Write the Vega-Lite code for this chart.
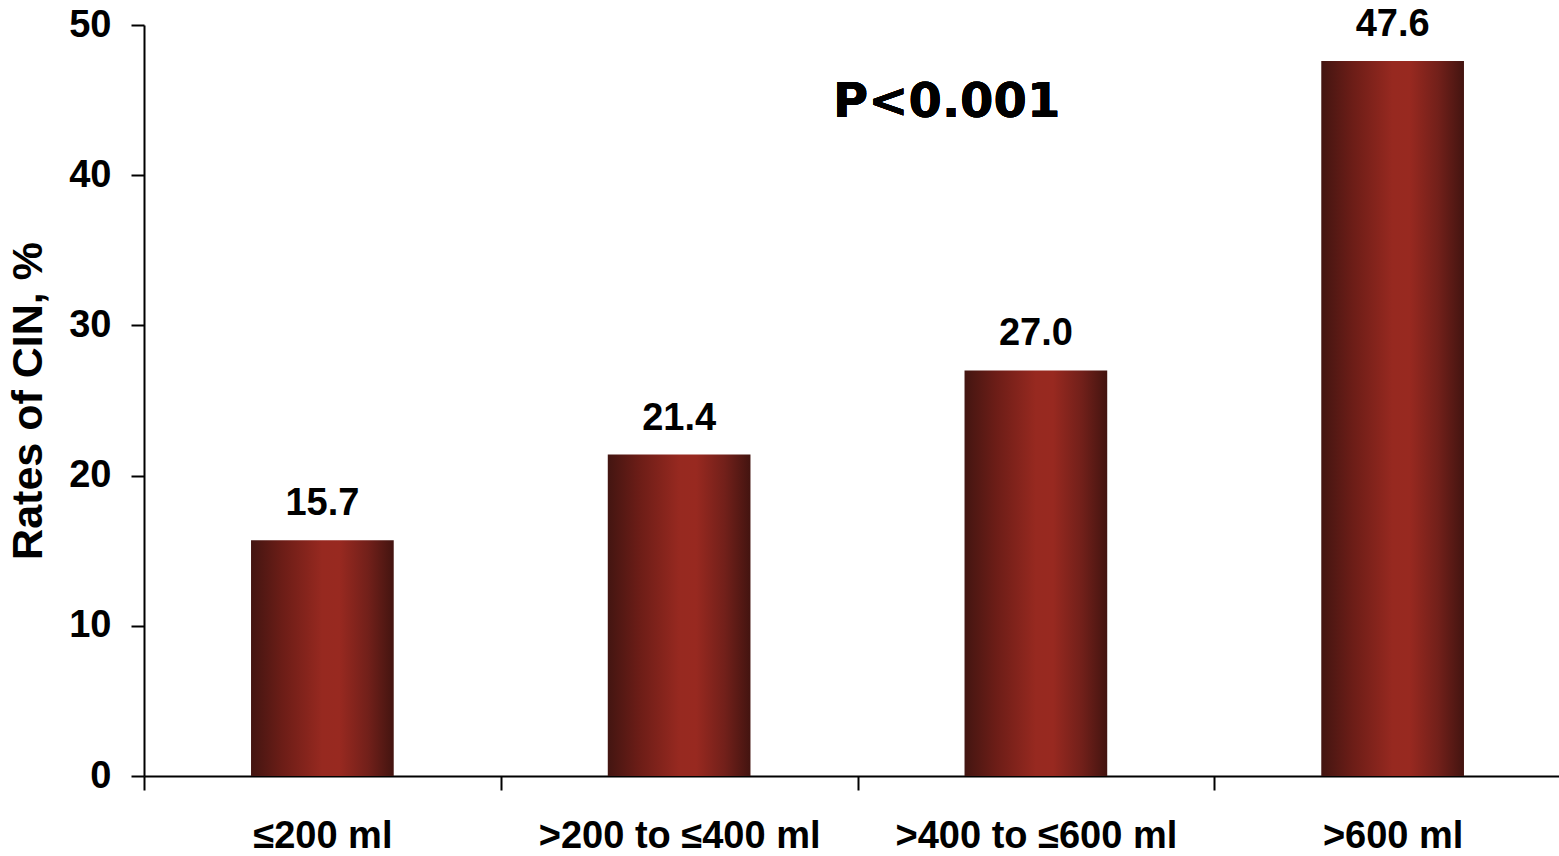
{
  "$schema": "https://vega.github.io/schema/vega-lite/v6.json",
  "autosize": {"type": "none"},
  "width": 1415,
  "height": 751,
  "padding": {"left": 144, "top": 25, "right": 0, "bottom": 80},
  "background": "white",
  "config": {
    "view": {"stroke": null},
    "font": "Liberation Sans",
    "axis": {
      "domainColor": "black",
      "domainWidth": 2,
      "tickColor": "black",
      "tickWidth": 2,
      "tickSize": 13,
      "labelColor": "black",
      "labelFont": "Liberation Sans",
      "labelFontWeight": "bold",
      "titleColor": "black",
      "titleFont": "Liberation Sans",
      "titleFontWeight": "bold",
      "grid": false
    }
  },
  "data": {
    "values": [
      {"volume": "≤200 ml", "rate": 15.7},
      {"volume": ">200 to ≤400 ml", "rate": 21.4},
      {"volume": ">400 to ≤600 ml", "rate": 27.0},
      {"volume": ">600 ml", "rate": 47.6}
    ]
  },
  "encoding": {
    "x": {
      "field": "volume",
      "type": "nominal",
      "sort": null,
      "scale": {"paddingInner": 0, "paddingOuter": 0, "range": [0, 1427]},
      "axis": {
        "title": null,
        "labelAngle": 0,
        "labelFontSize": 38,
        "labelPadding": 27,
        "labelLimit": 0,
        "tickBand": "extent",
        "tickSize": 14
      }
    },
    "y": {
      "field": "rate",
      "type": "quantitative",
      "scale": {"domain": [0, 50], "nice": false},
      "axis": {
        "title": "Rates of CIN, %",
        "titleFontSize": 43,
        "titlePadding": 18,
        "values": [0, 10, 20, 30, 40, 50],
        "labelFontSize": 38,
        "labelPadding": 20
      }
    }
  },
  "layer": [
    {
      "mark": {
        "type": "bar",
        "width": {"band": 0.4},
        "color": {
          "gradient": "linear",
          "x1": 0, "x2": 1, "y1": 0, "y2": 0,
          "stops": [
            {"offset": 0, "color": "#431511"},
            {"offset": 0.22, "color": "#6c1d17"},
            {"offset": 0.5, "color": "#972920"},
            {"offset": 0.62, "color": "#982920"},
            {"offset": 0.82, "color": "#72201a"},
            {"offset": 1, "color": "#431410"}
          ]
        }
      }
    },
    {
      "mark": {
        "type": "text",
        "baseline": "alphabetic",
        "dy": -25,
        "fontSize": 38,
        "fontWeight": "bold",
        "color": "black"
      },
      "encoding": {
        "text": {"field": "rate", "type": "quantitative", "format": ".1f"}
      }
    },
    {
      "mark": {
        "type": "text",
        "font": "DejaVu Sans",
        "fontSize": 48,
        "fontWeight": "bold",
        "baseline": "alphabetic",
        "align": "center",
        "color": "black",
        "text": "P<0.001"
      },
      "encoding": {
        "x": {"datum": ">400 to ≤600 ml", "bandPosition": 0.25},
        "y": {"datum": 43.85},
        "text": {"value": "P<0.001"}
      }
    }
  ]
}
